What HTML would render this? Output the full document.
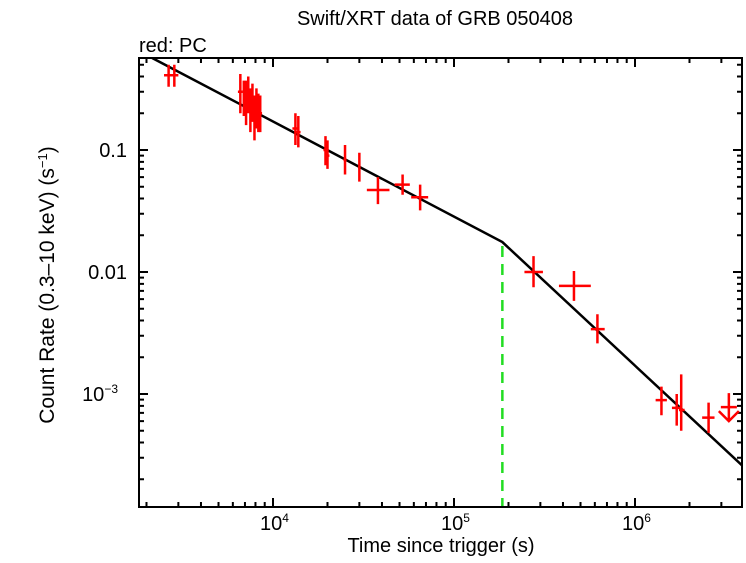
<!DOCTYPE html>
<html><head><meta charset="utf-8"><style>
body{margin:0;background:#fff;width:746px;height:558px;overflow:hidden}
svg text{font-family:"Liberation Sans",sans-serif;fill:#000}
</style></head><body>
<svg id="c" width="746" height="558">
<text x="435" y="25" font-size="20" text-anchor="middle">Swift/XRT data of GRB 050408</text>
<text x="139" y="52" font-size="20">red: PC</text>
<text x="441" y="552" font-size="20" text-anchor="middle">Time since trigger (s)</text>
<text transform="translate(54,285) rotate(-90)" font-size="21" text-anchor="middle">Count Rate (0.3–10 keV) (s<tspan dy="-7" font-size="13">−1</tspan><tspan dy="7">)</tspan></text>
<g id="ticks"></g><g id="marks"></g>
<rect x="139" y="58" width="603" height="449" fill="none" stroke="#000" stroke-width="2"/>
</svg>
<script>
const tVals=[2650,2850,6600,6900,7100,7300,7500,7700,7900,8100,8300,8500,13300,13800,19500,20000,25000,30000,38000,52000,65000,275000,460000,620000,1400000,1700000,1800000,2550000];
const tLo=[2500,2750,6400,6800,7000,7200,7400,7600,7800,8000,8200,8400,12800,13400,19000,19700,24500,29500,33000,47000,58000,245000,380000,570000,1300000,1600000,1750000,2350000];
const tHi=[2800,3000,6800,7000,7200,7400,7600,7800,8000,8200,8400,8700,13800,14200,20000,20500,25500,30500,44000,57000,72000,310000,570000,680000,1500000,1780000,1880000,2750000];
const rVals=[0.41,0.41,0.3,0.27,0.26,0.3,0.22,0.25,0.19,0.23,0.21,0.2,0.15,0.14,0.1,0.09,0.083,0.072,0.047,0.052,0.041,0.01,0.0077,0.0034,0.00089,0.00077,0.00074,0.00064];
const rLo=[0.33,0.33,0.2,0.19,0.16,0.2,0.14,0.17,0.12,0.15,0.14,0.14,0.11,0.105,0.075,0.07,0.063,0.055,0.036,0.043,0.032,0.0075,0.0058,0.0026,0.00067,0.00055,0.0005,0.00048];
const rHi=[0.5,0.5,0.42,0.37,0.37,0.4,0.32,0.35,0.28,0.32,0.29,0.28,0.2,0.19,0.13,0.12,0.11,0.095,0.06,0.063,0.052,0.0135,0.0102,0.0045,0.00115,0.001,0.00145,0.00085];
const ulT=[3300000], ulR=[0.00078];
const modelT=[2150,185000,3900000], modelR=[0.568,0.0176,0.00026];
const breakT=185000;
const xTickLabels=["10","10","10"], xTickExp=["4","5","6"], xTickVals=[1e4,1e5,1e6];
const yTickLabels=["0.1","0.01","10"], yTickExp=["","","−3"], yTickVals=[0.1,0.01,0.001];
const X=t=>273+(Math.log10(t)-4)*181, Y=v=>150+(-1-Math.log10(v))*122;
const L=139,R=742,T=58,B=507,NS="http://www.w3.org/2000/svg";
const mk=(p,tag,a)=>{const e=document.createElementNS(NS,tag);for(const k in a)e.setAttribute(k,a[k]);p.appendChild(e);return e;};
const tk=document.getElementById('ticks'), mg=document.getElementById('marks');
for(let d=3;d<=6;d++)for(let m=1;m<10;m++){const t=m*Math.pow(10,d);const x=X(t);if(x<L||x>R)continue;const len=m==1?9:5;
 const e1=mk(tk,'path',{d:`M${x},${B}v${-len}M${x},${T}v${len}`,stroke:'#000','stroke-width':2});
 
 }
for(let d=-5;d<=0;d++)for(let m=1;m<10;m++){const v=m*Math.pow(10,d);const y=Y(v);if(y<T||y>B)continue;const len=m==1?9:5;
 const e2=mk(tk,'path',{d:`M${L},${y}h${len}M${R},${y}h${-len}`,stroke:'#000','stroke-width':2});
 
 }
xTickVals.forEach((v,i)=>{const t=mk(tk,'text',{x:X(v)-13,y:530,'font-size':20});t.innerHTML=xTickLabels[i]+`<tspan dy="-8" font-size="12">${xTickExp[i]}</tspan>`;
 
 });
yTickVals.forEach((v,i)=>{const t=mk(tk,'text',{x:yTickExp[i]?118:127,y:Y(v)+7,'font-size':20,'text-anchor':'end'});t.innerHTML=yTickLabels[i]+(yTickExp[i]?`<tspan dy="-8" font-size="12">${yTickExp[i]}</tspan>`:'');
 
 });
const bl=mk(mg,'line',{x1:X(breakT),x2:X(breakT),y1:Y(modelR[1])+4,y2:B,stroke:'#22dd22','stroke-width':2.5,'stroke-dasharray':'11,7'});


const cx=modelT.map(t=>X(t)),cy=modelR.map(Y);
const ml=mk(mg,'polyline',{points:cx.map((x,i)=>x+','+cy[i]).join(' '),fill:'none',stroke:'#000','stroke-width':2.5});


const cp=document.createElementNS(NS,'clipPath');cp.id='cl';mk(cp,'rect',{x:L,y:T,width:R-L,height:B-T});mg.appendChild(cp);ml.setAttribute('clip-path','url(#cl)');
tVals.forEach((t,i)=>{const p=mk(mg,'path',{d:`M${X(tLo[i])},${Y(rVals[i])}H${X(tHi[i])}M${X(t)},${Y(rLo[i])}V${Y(rHi[i])}`,stroke:'#f00','stroke-width':2.5,fill:'none'});
 
 });
ulT.forEach((t,i)=>{const x=X(t),y=Y(ulR[i]);const p=mk(mg,'path',{d:`M${x-8},${y}H${x+8}M${x},${y-14}V${y+14}M${x-10},${y+4}L${x},${y+14}L${x+10},${y+4}`,stroke:'#f00','stroke-width':2.5,fill:'none'});
 
 });
</script>
</body></html>
